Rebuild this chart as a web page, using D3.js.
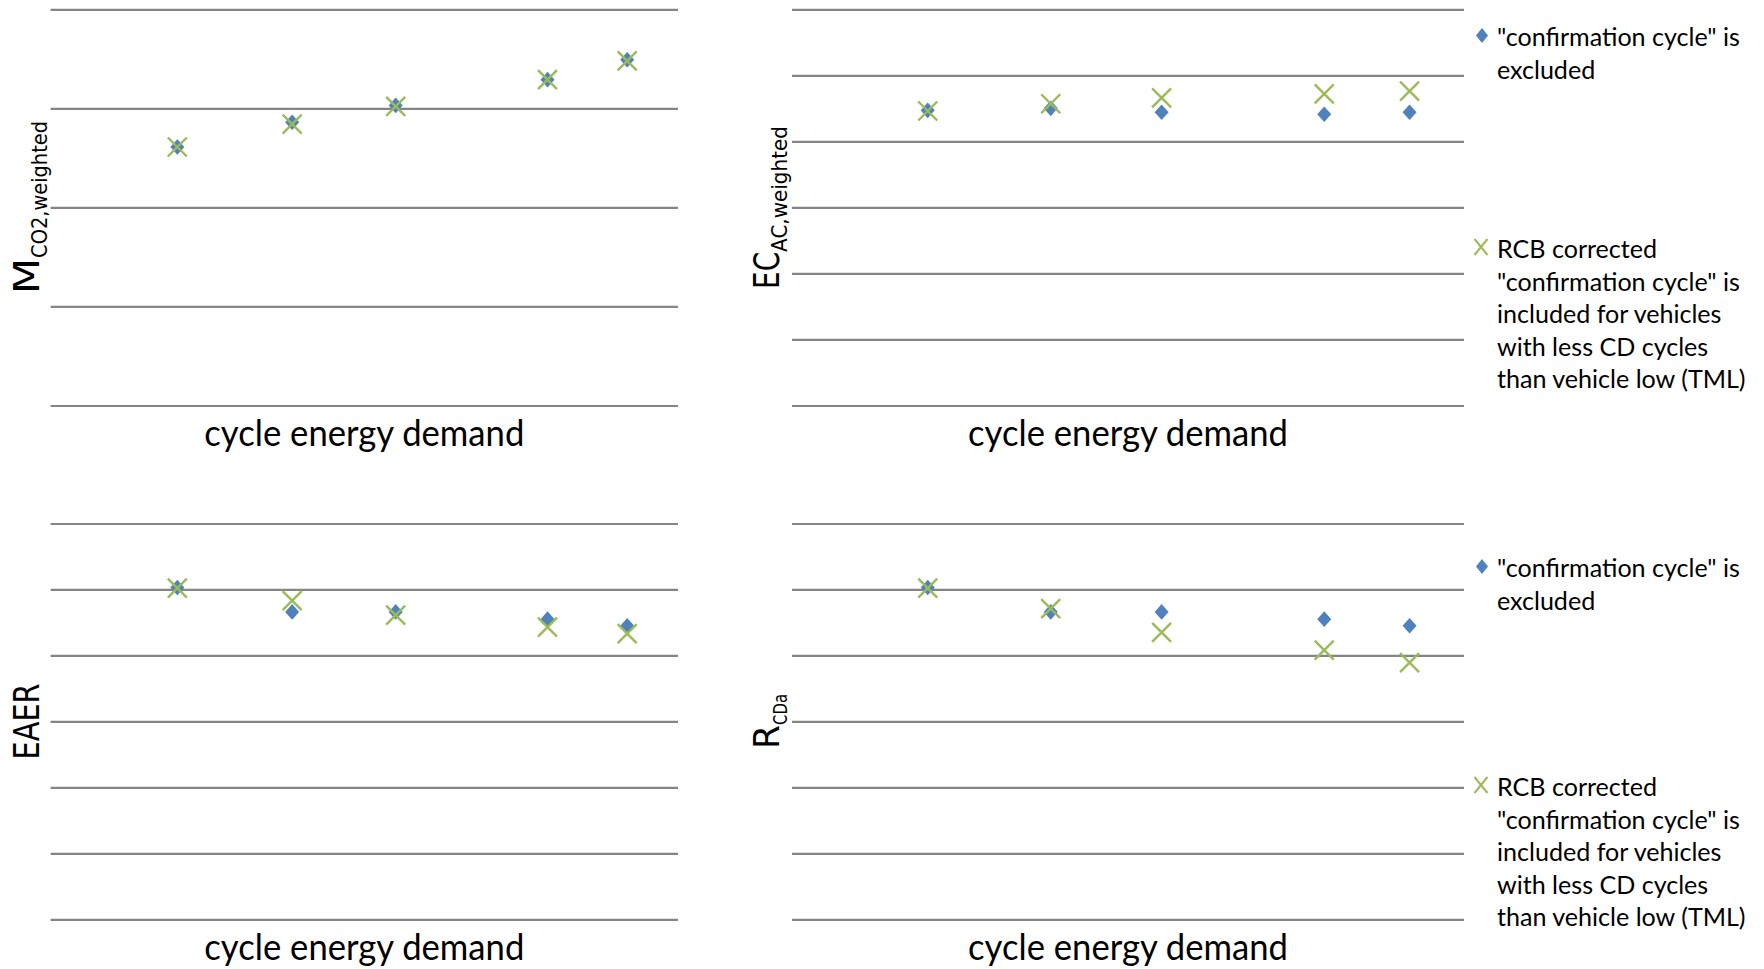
<!DOCTYPE html>
<html>
<head>
<meta charset="utf-8">
<script src="https://cdn.jsdelivr.net/npm/d3@7"></script>
<style>
  html, body { margin: 0; padding: 0; background: #ffffff; }
  svg { display: block; }
</style>
</head>
<body>
<svg id="chart" width="1764" height="969"></svg>
<script>
// ---- data -------------------------------------------------------------
// cycle energy demand of the five test vehicles (relative scale 0..100)
const energyDemand = [20.2, 38.5, 55.0, 79.2, 91.9];

// M_CO2,weighted
const mco2Excluded = [2.61, 2.86, 3.03, 3.29, 3.49];
const mco2Rcb      = [2.61, 2.84, 3.02, 3.29, 3.48];

// EC_AC,weighted
const ecExcluded = [4.47, 4.50, 4.44, 4.41, 4.44];
const ecRcb      = [4.46, 4.57, 4.66, 4.72, 4.76];

// EAER
const eaerExcluded = [5.03, 4.66, 4.66, 4.55, 4.45];
const eaerRcb      = [5.02, 4.83, 4.61, 4.43, 4.33];

// R_CDa
const rcdaExcluded = [5.03, 4.66, 4.66, 4.55, 4.45];
const rcdaRcb      = [5.02, 4.71, 4.35, 4.08, 3.89];

const xAxisTitle = "cycle energy demand";
const legendExcludedLines = ["\"confirmation cycle\" is", "excluded"];
const legendRcbLines = [
  "RCB corrected",
  "\"confirmation cycle\" is",
  "included for vehicles",
  "with less CD cycles",
  "than vehicle low (TML)"
];

// ---- styles -----------------------------------------------------------
const gridColor = "#858585";
const blue = "#4F81BD";
const green = "#9BBB59";
const labelFont = "'DejaVu Sans', Verdana, sans-serif";
const textFont = "Lato, 'Open Sans', sans-serif";

const svg = d3.select("#chart");

// ---- layout of the four panels ---------------------------------------
const panels = [
  { left: 50.6, right: 678,  top: 9.3,   bottom: 405.5, yMax: 4,
    excluded: mco2Excluded, rcb: mco2Rcb,
    label: [{ t: "M", fs: 35, len: 36, base: 38.5 },
            { t: "CO2,weighted", fs: 21, len: 137, base: 47 }],
    titleBase: 446, legend: null },
  { left: 792,  right: 1464, top: 9.3,   bottom: 405.5, yMax: 6,
    excluded: ecExcluded, rcb: ecRcb,
    label: [{ t: "EC", fs: 35, len: 37, base: 779 },
            { t: "AC,weighted", fs: 21, len: 126, base: 787 }],
    titleBase: 446, legend: { first: 46, second: 258 } },
  { left: 50.6, right: 678,  top: 523.5, bottom: 919.3, yMax: 6,
    excluded: eaerExcluded, rcb: eaerRcb,
    label: [{ t: "EAER", fs: 35, len: 76, base: 39 }],
    titleBase: 960, legend: null },
  { left: 792,  right: 1464, top: 523.5, bottom: 919.3, yMax: 6,
    excluded: rcdaExcluded, rcb: rcdaRcb,
    label: [{ t: "R", fs: 35, len: 24, base: 779 },
            { t: "CDa", fs: 20, len: 31, base: 787 }],
    titleBase: 960, legend: { first: 577, second: 796 } }
];

const diamondPath = (hw, hh) => `M0,${-hh}L${hw},0L0,${hh}L${-hw},0Z`;
const crossPath = (hw, hh) => `M${-hw},${-hh}L${hw},${hh}M${-hw},${hh}L${hw},${-hh}`;

// horizontal text stretched to a given width
function fittedText(parent, str, x, y, fs, width, anchor) {
  const g = parent.append("g");
  const t = g.append("text")
    .attr("font-family", textFont)
    .attr("font-size", fs)
    .attr("fill", "#000")
    .attr("text-anchor", anchor)
    .text(str);
  const k = width / t.node().getComputedTextLength();
  g.attr("transform", `translate(${x},${y}) scale(${k},1)`);
  return k;
}

function drawPanel(p) {
  const x = d3.scaleLinear().domain([0, 100]).range([p.left, p.right]);
  const y = d3.scaleLinear().domain([0, p.yMax]).range([p.bottom, p.top]);
  const g = svg.append("g");

  // horizontal gridlines
  const grid = g.append("g")
    .attr("transform", `translate(${p.left},0)`)
    .call(d3.axisLeft(y).ticks(p.yMax).tickSize(-(p.right - p.left)).tickFormat(""));
  grid.select(".domain").remove();
  grid.selectAll(".tick line").attr("stroke", gridColor).attr("stroke-width", 2.2);

  // series: "confirmation cycle" excluded (diamonds)
  g.append("g").selectAll("path")
    .data(energyDemand.map((e, i) => [e, p.excluded[i]]))
    .join("path")
    .attr("d", diamondPath(7, 7.8))
    .attr("fill", blue)
    .attr("transform", d => `translate(${x(d[0])},${y(d[1])})`);

  // series: RCB corrected (crosses)
  g.append("g").selectAll("path")
    .data(energyDemand.map((e, i) => [e, p.rcb[i]]))
    .join("path")
    .attr("d", crossPath(9.5, 9.5))
    .attr("fill", "none")
    .attr("stroke", green)
    .attr("stroke-width", 2.4)
    .attr("transform", d => `translate(${x(d[0])},${y(d[1])})`);

  // x-axis title
  fittedText(g, xAxisTitle, (p.left + p.right) / 2, p.titleBase, 36, 320, "middle");

  // rotated y-axis label (main symbol + subscript)
  const total = d3.sum(p.label, d => d.len);
  let start = (p.top + p.bottom) / 2 + total / 2;
  p.label.forEach(piece => {
    const pg = g.append("g");
    const t = pg.append("text")
      .attr("font-family", labelFont)
      .attr("font-size", piece.fs)
      .attr("fill", "#000")
      .text(piece.t);
    const k = piece.len / t.node().getComputedTextLength();
    pg.attr("transform", `translate(${piece.base},${start}) rotate(-90) scale(${k},1)`);
    start -= piece.len;
  });

  // legend
  if (p.legend) {
    const lg = g.append("g");
    const tx = 1497, lh = 32.5, fs = 25;
    const probe = lg.append("text").attr("font-family", textFont).attr("font-size", fs)
      .text(legendExcludedLines[0]);
    const k = 243 / probe.node().getComputedTextLength();
    probe.remove();
    const block = (lines, base) => lines.forEach((s, i) => {
      lg.append("text")
        .attr("font-family", textFont)
        .attr("font-size", fs)
        .attr("fill", "#000")
        .attr("transform", `translate(${tx},${base + i * lh}) scale(${k},1)`)
        .text(s);
    });
    lg.append("path").attr("d", diamondPath(6, 7.5)).attr("fill", blue)
      .attr("transform", `translate(1482,${p.legend.first - 10.5})`);
    block(legendExcludedLines, p.legend.first);
    lg.append("path").attr("d", crossPath(6.5, 8)).attr("fill", "none")
      .attr("stroke", green).attr("stroke-width", 2)
      .attr("transform", `translate(1481,${p.legend.second - 11})`);
    block(legendRcbLines, p.legend.second);
  }
}

panels.forEach(drawPanel);
</script>
</body>
</html>
